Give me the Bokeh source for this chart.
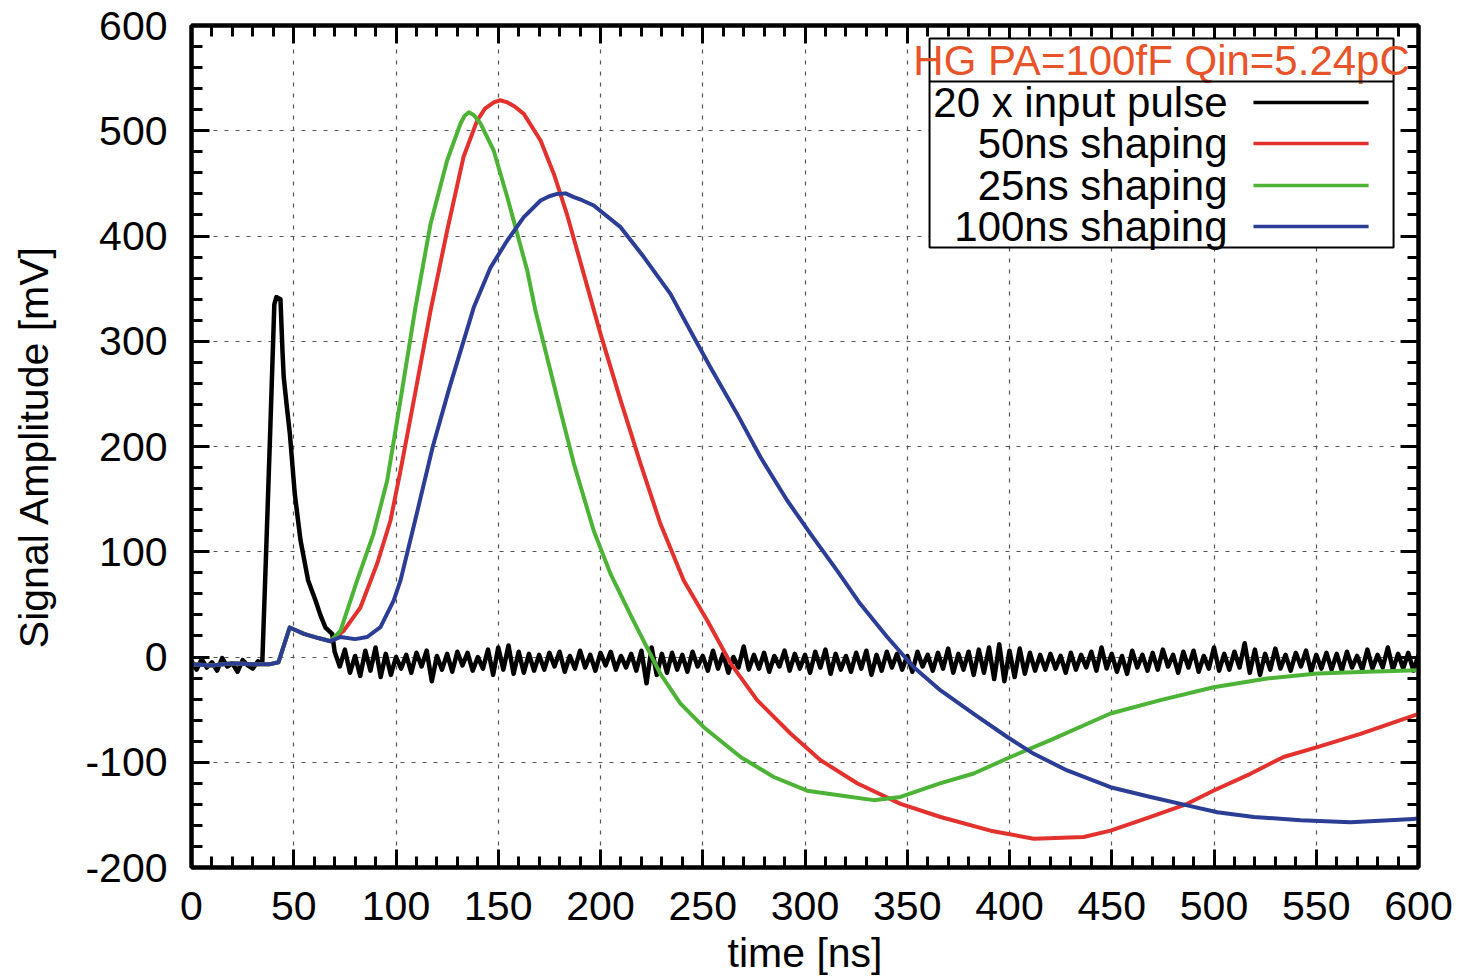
from bokeh.plotting import figure
from bokeh.models import (LinearAxis, SingleIntervalTicker, Range1d, BoxAnnotation, Label,
                          CustomJSTickFormatter)
from bokeh.embed import file_html
from bokeh.resources import INLINE

# ---------------- data ----------------
# 20 x input pulse (black)
black_pre_t = [0, 2.5, 5, 7.5, 10, 12.5, 15, 17.5, 20, 22.5, 25, 27.5, 30, 32.5]
black_pre_y = [-4, -12, -2, -10, -5, -13, -1, -9, -6, -14, -3, -8, -11, -4]
black_pulse_t = [34.6, 36.5, 38.5, 40.5, 41.5, 43.5, 44.5, 45.1, 46.5, 48.1, 50.5, 53.3, 57, 60.6, 63, 65.5, 68.8]
black_pulse_y = [-6, 100, 215, 335, 342, 340, 290, 266, 240, 212, 155, 111, 73, 54, 40, 28, 22]
black_noise_start = 70.0
black_noise_step = 2.5
black_noise_y = [
    5, -9, 7, -15, 1, -18, 6, -13, 9, -19, 3, -17, 0,
    -11, 2, -15, 4, -9, 6, -23, 1, -12, 3, -14, 5, -8, 4, -13, 0, -11,
    7, -17, 9, -12, 11, -16, 5, -15, 3, -13,
    2, -12, 4, -9, 5, -14, 1, -11, 6, -10, 2, -13, 4, -8, 5, -12, 1, -10, 3, -13,
    6, -25, 9, -17, 3, -15,
    4, -12, 2, -14, 5, -9, 1, -13, 6, -11, 3, -15, 0, -10, 10, -12, 2, -11, 4, -14, 1, -9, 6, -13, 3, -11,
    2, -15, 5, -10, 7, -16, 3, -12, 1, -14, 4, -11, 6, -17, 2, -13, 5, -10,
    3, -12, 1, -14, 5, -9, 2, -13, 4, -11, 8, -15, 3, -12, 5, -17, 7, -15,
    9, -21, 12, -23, 6, -19, 8, -16, 4, -13, 2, -12,
    3, -11, 1, -15, 4, -12, 2, -10, 5, -13, 9, -11, 3, -14, 1, -16, 6, -10, 2, -13,
    4, -12, 7, -9, 2, -15, 5, -10, 6, -14, 1, -11, 9, -13, 3, -12,
    5, -10, 13, -15, 7, -17, 3, -12, 8, -11, 2, -13, 4, -9, 6, -14,
    2, -11, 4, -12, 3, -13, 5, -10, 1, -12, 7, -11, 2, -10, 9, -12, 3, -11, 4, -13, 2,
]

# 50ns shaping (red)
red_t = [0, 10, 20, 30, 38, 42.5, 48, 55, 62, 68, 74.5, 82.6, 90.8, 97.3, 102.2, 109.5, 116.9, 125, 133,
         139.7, 143.5, 147.8, 151, 154.4, 158, 162.5, 170.7, 177.2, 183.7, 191.8, 200, 209.8, 219.6,
         229.3, 240.7, 252.2, 263.6, 276.6, 292.9, 307.6, 325.5, 346.7, 366.3, 390.7, 411.9, 436.3,
         449.4, 469, 486.9, 499.9, 517.8, 534, 550.5, 571.6, 597.6, 600]
red_y = [-7, -8, -6, -7, -7, -5, 28, 22, 18, 15, 25, 47, 88.8, 129.7, 177, 252, 329, 405, 475,
         509.7, 521, 527, 529, 527, 523, 516, 490.7, 459, 420, 364, 307, 244, 183.5,
         126.5, 72.7, 34.7, -6, -41, -72.7, -98, -120, -139.5, -152, -165, -172.7, -171,
         -165, -152, -139.5, -126.8, -111, -95, -85.7, -73, -55.6, -54]

# 25ns shaping (green)
green_t = [0, 10, 20, 30, 38, 42.5, 48, 55, 62, 68, 72.9, 81, 89, 95.7, 100.6, 109.5, 116.9, 125, 131.5,
           133.5, 135.6, 138, 141.3, 147.8, 154.4, 159.3, 164.2, 168.2, 180.4, 187, 196.7, 204.9, 216,
           229.3, 239, 250.5, 268.5, 284.7, 301, 317.4, 333.6, 346.7, 366, 382.5, 400.5, 420, 449.4,
           473.8, 499.8, 526, 550.5, 575, 600]
green_y = [-7, -8, -6, -7, -7, -5, 28, 22, 18, 15, 25, 72.7, 117, 167.7, 225, 332, 411.6, 471.7, 506.6,
           514, 517.6, 515, 507, 481, 437, 402, 367, 329, 234, 183.5, 120, 79, 34.7,
           -16, -44, -66.7, -95, -114, -127, -131.6, -136, -133, -120, -110.7, -95, -79, -53.7,
           -41, -28.7, -20.5, -15.6, -14, -12.5]

# 100ns shaping (blue)
blue_t = [0, 10, 20, 30, 38, 42.5, 48, 55, 62, 68, 72.9, 80, 85.9, 92.4, 98.9, 102.2, 110, 118, 126, 138,
          146.2, 154.4, 162.5, 170.7, 174.7, 178.8, 182.9, 187, 191, 196.7, 209.8, 221.2, 234.2, 245.6,
          253.8, 266.8, 278.2, 291.3, 302.7, 315.7, 327, 340.2, 353.2, 366.3, 382.5, 398.9, 411.9,
          428.2, 449.4, 469, 486.9, 501.6, 519.5, 542.3, 566.7, 597.6, 600]
blue_y = [-7, -8, -6, -7, -7, -5, 28, 22, 18, 15, 19, 17, 19, 28.3, 53.7, 72.7, 135, 200, 255, 332,
          370, 395.7, 418, 433.7, 437.5, 440, 440.5, 437, 434, 429, 408.4, 380, 345, 304,
          275, 231, 190, 148.7, 117, 82, 50.5, 19, -9.7, -31.8, -54, -76, -92,
          -107.8, -123.7, -133, -141, -147.5, -152, -155, -157, -154, -153]

legend_title = "HG PA=100fF Qin=5.24pC"
series_labels = ["20 x input pulse", "50ns shaping", "25ns shaping", "100ns shaping"]
series_colors = ["#000000", "#e3312d", "#4cb336", "#2b3d94"]
title_color = "#e8542a"

black_noise_t = [black_noise_start + i * black_noise_step for i in range(len(black_noise_y))]
black_t = black_pre_t + black_pulse_t + black_noise_t
black_y = black_pre_y + black_pulse_y + black_noise_y

FONT = "Liberation Sans"
FS = "41px"
LFS = "42px"

p = figure(width=1460, height=980, x_range=Range1d(0, 600), y_range=Range1d(-200, 600),
           output_backend="svg", toolbar_location=None,
           min_border_left=191, min_border_right=42, min_border_top=25, min_border_bottom=113)
p.background_fill_color = "white"
p.border_fill_color = "white"
p.outline_line_color = "black"
p.outline_line_width = 4

plain_fmt = CustomJSTickFormatter(code="return tick.toString();")


def style_axis(ax, show_labels):
    ax.axis_line_width = 4
    ax.axis_line_color = "black"
    ax.major_tick_in = 18
    ax.major_tick_out = 0
    ax.minor_tick_in = 11
    ax.minor_tick_out = 0
    ax.major_tick_line_width = 3
    ax.minor_tick_line_width = 3
    ax.major_tick_line_color = "black"
    ax.minor_tick_line_color = "black"
    if show_labels:
        ax.formatter = plain_fmt
        ax.major_label_text_font = FONT
        ax.major_label_text_font_size = FS
        ax.major_label_text_color = "black"
        ax.axis_label_text_font = FONT
        ax.axis_label_text_font_size = FS
        ax.axis_label_text_font_style = "normal"
        ax.axis_label_text_color = "black"
    else:
        ax.major_label_text_font_size = "0px"
        ax.major_label_text_color = None
        ax.major_label_standoff = 0


p.xaxis.ticker = SingleIntervalTicker(interval=50, num_minor_ticks=5)
p.yaxis.ticker = SingleIntervalTicker(interval=100, num_minor_ticks=5)
style_axis(p.xaxis[0], True)
style_axis(p.yaxis[0], True)
p.xaxis.axis_label = "time [ns]"
p.yaxis.axis_label = "Signal Amplitude [mV]"
p.xaxis.major_label_standoff = 24
p.xaxis.axis_label_standoff = 7
p.yaxis.major_label_standoff = 24
p.yaxis.axis_label_standoff = 25

top_ax = LinearAxis(ticker=SingleIntervalTicker(interval=50, num_minor_ticks=5))
right_ax = LinearAxis(ticker=SingleIntervalTicker(interval=100, num_minor_ticks=5))
style_axis(top_ax, False)
style_axis(right_ax, False)
p.add_layout(top_ax, "above")
p.add_layout(right_ax, "right")

for g in (p.xgrid[0], p.ygrid[0]):
    g.grid_line_color = "#555555"
    g.grid_line_dash = "4 7"
    g.grid_line_width = 1.2

p.line(black_t, black_y, line_color=series_colors[0], line_width=4.5, line_join="round")
p.line(red_t, red_y, line_color=series_colors[1], line_width=4, line_join="round")
p.line(green_t, green_y, line_color=series_colors[2], line_width=4, line_join="round")
p.line(blue_t, blue_y, line_color=series_colors[3], line_width=4, line_join="round")

# ---------------- legend (gnuplot style) ----------------
box_l, box_r, box_t, box_b = 360.9, 587.8, 587.6, 389.1
sep_y = 546.8
row_y = [526.8, 487.9, 448.0, 409.0]
text_x = 506.6
sample_x0, sample_x1 = 519.3, 575.6

p.add_layout(BoxAnnotation(left=box_l, right=box_r, top=box_t, bottom=box_b,
                           fill_color="white", fill_alpha=1.0,
                           line_color="black", line_alpha=1.0, line_width=2))
sep = p.segment(x0=[box_l], y0=[sep_y], x1=[box_r], y1=[sep_y], line_color="black", line_width=2)
sep.level = "overlay"
p.add_layout(Label(x=(box_l + box_r) / 2, y=566.7, text=legend_title, text_align="center",
                   text_baseline="middle", text_font=FONT, text_font_size=LFS,
                   text_color=title_color))
for lab, yy in zip(series_labels, row_y):
    p.add_layout(Label(x=text_x, y=yy, text=lab, text_align="right", text_baseline="middle",
                       text_font=FONT, text_font_size=LFS, text_color="black"))
samples = p.segment(x0=[sample_x0] * 4, y0=row_y, x1=[sample_x1] * 4, y1=row_y,
                    line_color=series_colors, line_width=3.5)
samples.level = "overlay"

open("out.html", "w").write(file_html(p, INLINE))
